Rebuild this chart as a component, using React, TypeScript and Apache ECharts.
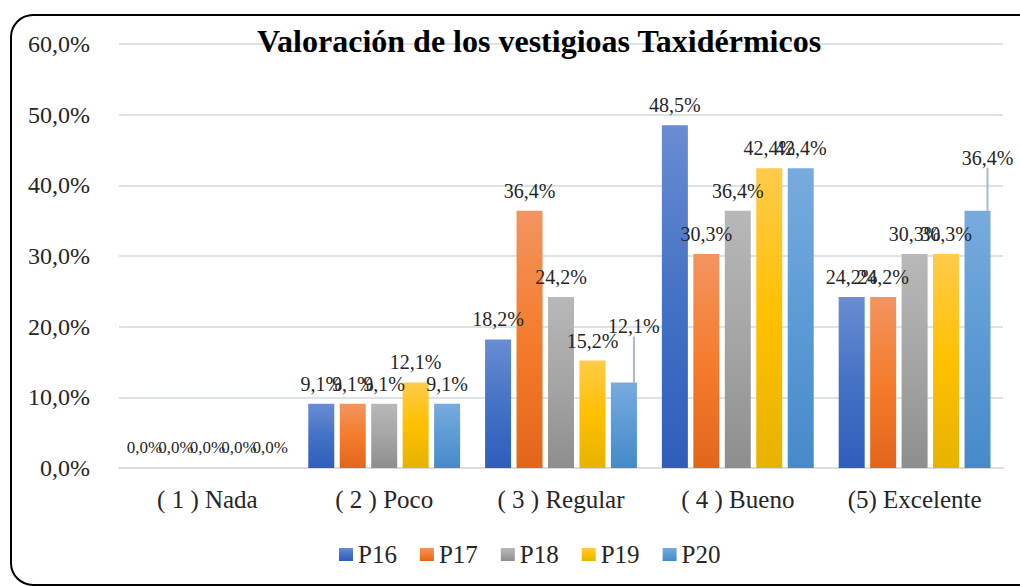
import React, { useEffect, useRef } from "react";
import * as echarts from "echarts";

const categories = ["( 1 ) Nada", "( 2 ) Poco", "( 3 ) Regular", "( 4 ) Bueno", "(5) Excelente"];
const seriesNames = ["P16", "P17", "P18", "P19", "P20"];
const p16 = [0, 9.1, 18.2, 48.5, 24.2];
const p17 = [0, 9.1, 36.4, 30.3, 24.2];
const p18 = [0, 9.1, 24.2, 36.4, 30.3];
const p19 = [0, 12.1, 15.2, 42.4, 30.3];
const p20 = [0, 9.1, 12.1, 42.4, 36.4];
const seriesValues = [p16, p17, p18, p19, p20];
const yTicks = [0, 10, 20, 30, 40, 50, 60];

const gradients = [
  ["#6a8cd2", "#4472c4", "#2f5dbb"],
  ["#f39460", "#f47c2c", "#e2661a"],
  ["#b8b8b8", "#a5a5a5", "#8e8e8e"],
  ["#ffcb4a", "#ffc000", "#e6b300"],
  ["#78abdd", "#5b9bd5", "#468ac9"],
];

const fmt = (v: number) => v.toFixed(1).replace(".", ",") + "%";
const FONT = "Times New Roman, Liberation Serif, serif";

export default function App() {
  const ref = useRef<HTMLDivElement>(null);
  useEffect(() => {
    if (!ref.current) return;
    const chart = echarts.init(ref.current, null, { renderer: "svg" });
    const series = seriesNames.map((name, si) => ({
      name,
      type: "bar",
      barWidth: 26,
      barGap: "21%",
      itemStyle: {
        color: new echarts.graphic.LinearGradient(0, 0, 0, 1, [
          { offset: 0, color: gradients[si][0] },
          { offset: 0.5, color: gradients[si][1] },
          { offset: 1, color: gradients[si][2] },
        ]),
      },
      label: {
        show: true,
        position: "top",
        distance: 10,
        fontSize: 20,
        color: "#262626",
        fontFamily: FONT,
        formatter: (p: any) => fmt(p.value),
      },
      labelLine: { show: false, lineStyle: { color: "#aab7cc", width: 2 } },
      data: seriesValues[si].map((v, di) => {
        const item: any = { value: v };
        if (v === 0) {
          item.label = { fontSize: 17, distance: 12 };
        }
        if (si === 4 && (di === 2 || di === 4)) {
          item.labelLine = { show: true, lineStyle: { color: "#aab7cc", width: 2 } };
        }
        return item;
      }),
    }));

    chart.setOption({
      animation: false,
      textStyle: { fontFamily: FONT },
      grid: { left: 119, right: 17, top: 44, bottom: 118, containLabel: false },
      legend: {
        data: seriesNames,
        bottom: 14,
        left: 334,
        icon: "rect",
        itemWidth: 14,
        itemHeight: 13,
        itemGap: 23,
        textStyle: { fontSize: 25, color: "#262626", fontFamily: FONT },
      },
      xAxis: {
        type: "category",
        data: categories,
        axisTick: { show: false },
        axisLine: { lineStyle: { color: "#d9dde4", width: 2 } },
        axisLabel: { fontSize: 25, color: "#262626", margin: 19, fontFamily: FONT },
      },
      yAxis: {
        type: "value",
        min: yTicks[0],
        max: yTicks[yTicks.length - 1],
        interval: 10,
        axisLine: { show: false },
        axisTick: { show: false },
        splitLine: { lineStyle: { color: "#dde1e8", width: 2 } },
        axisLabel: { fontSize: 24, color: "#262626", margin: 29, fontFamily: FONT, formatter: (v: number) => fmt(v) },
      },
      labelLayout: (p: any) => {
        if (p.seriesIndex === 4 && p.dataIndex === 2) return { dx: 10, dy: -36 };
        if (p.seriesIndex === 4 && p.dataIndex === 4) return { dx: 10, dy: -33 };
        return {};
      },
      graphic: [
        {
          type: "rect",
          shape: { x: 11, y: 15, width: 1040, height: 570, r: 22 },
          style: { fill: "none", stroke: "#000", lineWidth: 2 },
          silent: true,
          z: 100,
        },
        {
          type: "text",
          x: 539,
          y: 41,
          style: {
            text: "Valoración de los vestigioas Taxidérmicos",
            fontSize: 32,
            fontWeight: "bold",
            fontFamily: FONT,
            fill: "#000",
            align: "center",
            verticalAlign: "middle",
          },
          z: 100,
        },
      ],
      series,
    });
    return () => chart.dispose();
  }, []);
  return (
    <div
      ref={ref}
      style={{ position: "fixed", left: 0, top: 0, width: 1020, height: 586, background: "#fff" }}
    />
  );
}
